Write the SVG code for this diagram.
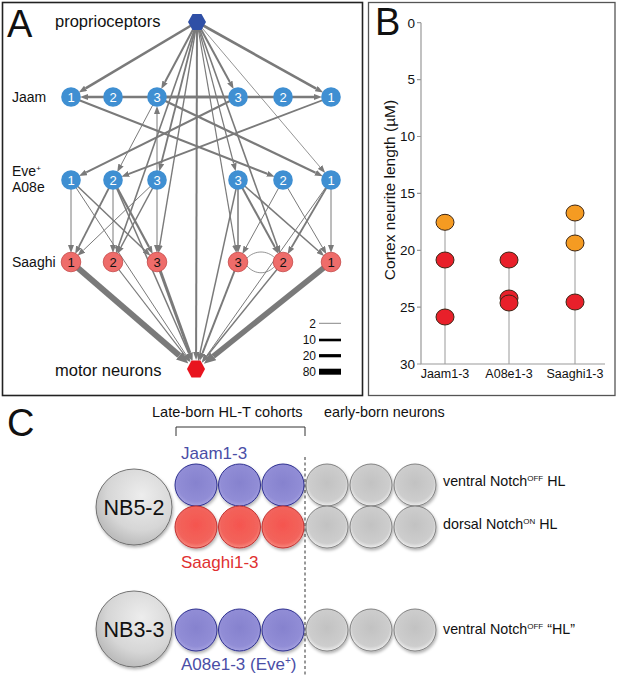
<svg xmlns="http://www.w3.org/2000/svg" width="617" height="676" viewBox="0 0 617 676">
<defs>
<style>
text{font-family:"Liberation Sans",Arial,sans-serif;fill:#111}
.lbl{font-size:14px}
.big{font-size:38px}
.e{stroke:#7a7a7a;fill:none;marker-end:url(#ah)}
.eb{stroke:#7a7a7a;fill:none;marker-end:url(#ahb)}
.bn{fill:#3f8fd2}
.rn{fill:#ee6c6a;stroke:#c54848;stroke-width:0.8}
.nw{font-size:13px;fill:#fff;text-anchor:middle}
.nk{font-size:13px;fill:#111;text-anchor:middle}
.ax{stroke:#999;stroke-width:1.2;fill:none}
.tk{font-size:13.5px;text-anchor:end}
.xl{font-size:12.5px;text-anchor:middle}
.dot{stroke:#3b2616;stroke-width:1}
.cb{fill:url(#gb);stroke:#2d2f8f;stroke-width:1;filter:url(#sh)}
.cr{fill:url(#gr);stroke:#c03030;stroke-width:1;filter:url(#sh)}
.cg{fill:url(#gg);stroke:#777;stroke-width:0.9;filter:url(#sh)}
.cn{fill:url(#gn);stroke:#666;stroke-width:0.9;filter:url(#sh)}
.rt{font-size:14.3px}
</style>
<marker id="ah" viewBox="0 0 8 6" refX="0" refY="3" markerWidth="8" markerHeight="6" markerUnits="userSpaceOnUse" orient="auto"><path d="M0,0 L8,3 L0,6 z" fill="#7a7a7a"/></marker>
<marker id="ahb" viewBox="0 0 12 10" refX="0" refY="5" markerWidth="12" markerHeight="10" markerUnits="userSpaceOnUse" orient="auto"><path d="M0,0 L12,5 L0,10 z" fill="#7a7a7a"/></marker>
<radialGradient id="gb" cx="50%" cy="45%" r="55%"><stop offset="0" stop-color="#8682ce"/><stop offset="0.8" stop-color="#918dd6"/><stop offset="1" stop-color="#a6a2e0"/></radialGradient>
<radialGradient id="gr" cx="50%" cy="45%" r="55%"><stop offset="0" stop-color="#f5554f"/><stop offset="0.8" stop-color="#f2645c"/><stop offset="1" stop-color="#f78a80"/></radialGradient>
<radialGradient id="gg" cx="50%" cy="45%" r="55%"><stop offset="0" stop-color="#c2c2c2"/><stop offset="0.8" stop-color="#cdcdcd"/><stop offset="1" stop-color="#efefef"/></radialGradient>
<radialGradient id="gn" cx="60%" cy="35%" r="65%"><stop offset="0" stop-color="#ededed"/><stop offset="0.7" stop-color="#d6d6d6"/><stop offset="1" stop-color="#bdbdbd"/></radialGradient>
<filter id="sh" x="-20%" y="-20%" width="150%" height="150%"><feDropShadow dx="1" dy="2" stdDeviation="1.5" flood-color="#000" flood-opacity="0.3"/></filter>
</defs>
<rect width="617" height="676" fill="#fff"/>

<!-- Panel A -->
<rect x="2.5" y="2.5" width="360" height="393" fill="none" stroke="#222" stroke-width="1.6"/>
<text class="big" x="7" y="37">A</text>
<text x="55" y="27" font-size="16.5">proprioceptors</text>
<text class="lbl" x="12" y="102">Jaam</text>
<text class="lbl" x="12" y="176">Eve<tspan font-size="8" dy="-5">+</tspan></text>
<text class="lbl" x="12" y="192">A08e</text>
<text class="lbl" x="12" y="267">Saaghi</text>
<text x="55" y="376" font-size="16.5">motor neurons</text>

<g id="connectors">
<path class="e" stroke-width="2.6" d="M197,22 L85.6,88.3"/>
<path class="e" stroke-width="2" d="M197,22 L165,82"/>
<path class="e" stroke-width="2" d="M197,22 L229.8,82.1"/>
<path class="e" stroke-width="2.6" d="M197,22 L316.2,88.7"/>
<path class="e" stroke-width="1.8" d="M197,22 L161.2,163.5"/>
<path class="e" stroke-width="1.2" d="M197,22 L233.7,163.5"/>
<path class="e" stroke-width="0.8" d="M197,22 L320,167"/>
<path class="e" stroke-width="2" d="M197,22 L196.1,352"/>
<path class="e" stroke-width="1.6" d="M197,22 L118.6,246"/>
<path class="e" stroke-width="1.4" d="M197,22 L159.8,245.2"/>
<path class="e" stroke-width="1.6" d="M197,22 L277.3,246"/>
<path class="e" stroke-width="1.2" d="M197,22 L235.1,245.2"/>
<path class="e" stroke-width="2.6" d="M238,97 L88,97"/>
<path class="e" stroke-width="2.6" d="M157,97 L314,97"/>
<path class="e" stroke-width="2" d="M71,97 L267.2,173.8"/>
<path class="e" stroke-width="2.2" d="M157,97 L315.6,172.7"/>
<path class="e" stroke-width="2" d="M238,97 L86.2,172.4"/>
<path class="e" stroke-width="1.8" d="M331,97 L128.9,173.9"/>
<path class="e" stroke-width="1" d="M157,97 L121,165"/>
<path class="e" stroke-width="1" d="M157,180 L157,114"/>
<path class="e" stroke-width="1" d="M71,180 L71,245"/>
<path class="e" stroke-width="1.5" d="M71,180 L144.7,250.3"/>
<path class="e" stroke-width="1.8" d="M113,180 L78.8,246.9"/>
<path class="e" stroke-width="1" d="M113,180 L113,245"/>
<path class="e" stroke-width="2.2" d="M113,180 L149,247"/>
<path class="e" stroke-width="1" d="M157,180 L83.3,250.3"/>
<path class="e" stroke-width="1.5" d="M157,180 L121,247"/>
<path class="e" stroke-width="1" d="M157,180 L157,245"/>
<path class="e" stroke-width="1.5" d="M238,180 L238,245"/>
<path class="e" stroke-width="2" d="M238,180 L274.8,247.1"/>
<path class="e" stroke-width="1.5" d="M238,180 L318.2,250.8"/>
<path class="e" stroke-width="1" d="M283,180 L246.2,247.1"/>
<path class="e" stroke-width="1" d="M283,180 L322.4,247.3"/>
<path class="e" stroke-width="1" d="M331,180 L331,245"/>
<path class="e" stroke-width="1.8" d="M331,180 L291.6,247.3"/>
<path stroke="#7a7a7a" stroke-width="0.8" fill="none" d="M247,258 C255,250 267,250 275,258"/>
<path stroke="#7a7a7a" stroke-width="0.8" fill="none" d="M247,266 C255,275 267,275 275,266"/>
<path class="eb" stroke-width="6" d="M71,262 L179.3,355.6"/>
<path class="e" stroke-width="1.2" d="M113,262 L185,355.7"/>
<path class="e" stroke-width="1" d="M71,180 L186.1,355"/>
<path class="e" stroke-width="3" d="M157,262 L189.9,353.1"/>
<path class="e" stroke-width="1.5" d="M113,180 L188.8,353.5"/>
<path class="e" stroke-width="2" d="M238,262 L202.5,353.2"/>
<path class="e" stroke-width="1.5" d="M238,180 L199.9,353.4"/>
<path class="e" stroke-width="1.5" d="M283,262 L207,356"/>
<path class="e" stroke-width="1" d="M331,180 L206.4,356.1"/>
<path class="eb" stroke-width="5.5" d="M331,262 L213.2,356.3"/>
</g>

<g id="proprioceptors"><polygon points="188,22 192.5,14 201.5,14 206,22 201.5,30 192.5,30" fill="#2f4fa6"/></g>
<g id="motorneurons"><polygon points="187,369 191.5,360.5 200.5,360.5 205,369 200.5,377.5 191.5,377.5" fill="#e8141e"/></g>

<g id="jaam1L"><circle class="bn" cx="71" cy="97" r="9.8"/><text class="nw" x="71" y="101.6">1</text></g>
<g id="jaam2L"><circle class="bn" cx="113" cy="97" r="9.8"/><text class="nw" x="113" y="101.6">2</text></g>
<g id="jaam3L"><circle class="bn" cx="157" cy="97" r="9.8"/><text class="nw" x="157" y="101.6">3</text></g>
<g id="jaam3R"><circle class="bn" cx="238" cy="97" r="9.8"/><text class="nw" x="238" y="101.6">3</text></g>
<g id="jaam2R"><circle class="bn" cx="283" cy="97" r="9.8"/><text class="nw" x="283" y="101.6">2</text></g>
<g id="jaam1R"><circle class="bn" cx="331" cy="97" r="9.8"/><text class="nw" x="331" y="101.6">1</text></g>

<g id="eve1L"><circle class="bn" cx="71" cy="180" r="9.8"/><text class="nw" x="71" y="184.6">1</text></g>
<g id="eve2L"><circle class="bn" cx="113" cy="180" r="9.8"/><text class="nw" x="113" y="184.6">2</text></g>
<g id="eve3L"><circle class="bn" cx="157" cy="180" r="9.8"/><text class="nw" x="157" y="184.6">3</text></g>
<g id="eve3R"><circle class="bn" cx="238" cy="180" r="9.8"/><text class="nw" x="238" y="184.6">3</text></g>
<g id="eve2R"><circle class="bn" cx="283" cy="180" r="9.8"/><text class="nw" x="283" y="184.6">2</text></g>
<g id="eve1R"><circle class="bn" cx="331" cy="180" r="9.8"/><text class="nw" x="331" y="184.6">1</text></g>

<g id="saaghi1L"><circle class="rn" cx="71" cy="262" r="9.8"/><text class="nk" x="71" y="266.6">1</text></g>
<g id="saaghi2L"><circle class="rn" cx="113" cy="262" r="9.8"/><text class="nk" x="113" y="266.6">2</text></g>
<g id="saaghi3L"><circle class="rn" cx="157" cy="262" r="9.8"/><text class="nk" x="157" y="266.6">3</text></g>
<g id="saaghi3R"><circle class="rn" cx="238" cy="262" r="9.8"/><text class="nk" x="238" y="266.6">3</text></g>
<g id="saaghi2R"><circle class="rn" cx="283" cy="262" r="9.8"/><text class="nk" x="283" y="266.6">2</text></g>
<g id="saaghi1R"><circle class="rn" cx="331" cy="262" r="9.8"/><text class="nk" x="331" y="266.6">1</text></g>

<g id="legend">
<text font-size="12" text-anchor="end" x="316" y="327.5">2</text>
<line x1="319" y1="323.3" x2="341" y2="323.3" stroke="#888" stroke-width="1"/>
<text font-size="12" text-anchor="end" x="316" y="344.2">10</text>
<line x1="319" y1="340" x2="341" y2="340" stroke="#000" stroke-width="2.6"/>
<text font-size="12" text-anchor="end" x="316" y="360">20</text>
<line x1="319" y1="355.7" x2="341" y2="355.7" stroke="#000" stroke-width="3.2"/>
<text font-size="12" text-anchor="end" x="316" y="376">80</text>
<line x1="319" y1="371.7" x2="341" y2="371.7" stroke="#000" stroke-width="6"/>
</g>

<!-- Panel B -->
<rect x="368.5" y="2.5" width="246.5" height="393" fill="none" stroke="#555" stroke-width="1.3"/>
<text class="big" x="375" y="35">B</text>
<g id="chart">
<path class="ax" d="M421,22.7 L421,364 L605,364"/>
<path class="ax" d="M417,22.7 H421 M417,79.6 H421 M417,136.5 H421 M417,193.4 H421 M417,250.3 H421 M417,307.2 H421 M417,364 H421"/>
<text class="tk" x="415" y="27.5">0</text>
<text class="tk" x="415" y="84.4">5</text>
<text class="tk" x="415" y="141.3">10</text>
<text class="tk" x="415" y="198.2">15</text>
<text class="tk" x="415" y="255.1">20</text>
<text class="tk" x="415" y="312">25</text>
<text class="tk" x="415" y="368.8">30</text>
<text font-size="15.5" text-anchor="middle" transform="translate(395,190) rotate(-90)">Cortex neurite length (µM)</text>
<line x1="445" y1="222" x2="445" y2="364" stroke="#999" stroke-width="1"/>
<line x1="509" y1="260" x2="509" y2="364" stroke="#999" stroke-width="1"/>
<line x1="575" y1="213" x2="575" y2="364" stroke="#999" stroke-width="1"/>
<ellipse class="dot" cx="445" cy="222.3" rx="9" ry="8" fill="#f59b22"/>
<ellipse class="dot" cx="445" cy="260" rx="9" ry="8" fill="#e8202a"/>
<ellipse class="dot" cx="445" cy="317" rx="9" ry="8" fill="#e8202a"/>
<ellipse class="dot" cx="509" cy="260" rx="9" ry="8" fill="#e8202a"/>
<ellipse class="dot" cx="509" cy="298" rx="9" ry="8" fill="#e8202a"/>
<ellipse class="dot" cx="509" cy="303" rx="9" ry="8" fill="#e8202a"/>
<ellipse class="dot" cx="575" cy="213" rx="9" ry="8" fill="#f59b22"/>
<ellipse class="dot" cx="575" cy="243" rx="9" ry="8" fill="#f59b22"/>
<ellipse class="dot" cx="575" cy="302" rx="9" ry="8" fill="#e8202a"/>
<text class="xl" x="445" y="378">Jaam1-3</text>
<text class="xl" x="509" y="378">A08e1-3</text>
<text class="xl" x="575" y="378">Saaghi1-3</text>
</g>

<!-- Panel C -->
<text class="big" x="7" y="436">C</text>
<text font-size="14.6" x="152" y="417">Late-born HL-T cohorts</text>
<text font-size="14.4" x="324" y="417">early-born neurons</text>
<path d="M176,436 V427 H305 V436" fill="none" stroke="#333" stroke-width="1"/>
<line x1="305" y1="457" x2="305" y2="676" stroke="#333" stroke-width="1" stroke-dasharray="3,2.5"/>

<g id="NB5-2"><circle class="cn" cx="134" cy="507" r="38"/><text font-size="21.5" text-anchor="middle" x="134" y="515">NB5-2</text></g>
<g id="NB3-3"><circle class="cn" cx="134" cy="629" r="38"/><text font-size="21.5" text-anchor="middle" x="134" y="637">NB3-3</text></g>

<g id="jaam-cohort">
<circle class="cb" cx="196" cy="485" r="21"/>
<circle class="cb" cx="239.5" cy="485" r="21"/>
<circle class="cb" cx="283" cy="485" r="21"/>
<text font-size="17" x="181" y="459" style="fill:#4a4ea6">Jaam1-3</text>
</g>
<g id="saaghi-cohort">
<circle class="cr" cx="196" cy="527" r="21"/>
<circle class="cr" cx="239.5" cy="527" r="21"/>
<circle class="cr" cx="283" cy="527" r="21"/>
<text font-size="17" x="181" y="568" style="fill:#e03030">Saaghi1-3</text>
</g>
<g id="a08e-cohort">
<circle class="cb" cx="196" cy="630" r="21"/>
<circle class="cb" cx="239.5" cy="630" r="21"/>
<circle class="cb" cx="283" cy="630" r="21"/>
<text font-size="17" x="181" y="670" style="fill:#4a4ea6">A08e1-3 (Eve<tspan font-size="10" dy="-6">+</tspan><tspan dy="6">)</tspan></text>
</g>
<g id="early-ventral">
<circle class="cg" cx="327" cy="485" r="21"/>
<circle class="cg" cx="371" cy="485" r="21"/>
<circle class="cg" cx="415" cy="485" r="21"/>
<text class="rt" x="443" y="486">ventral Notch<tspan font-size="8" dy="-5">OFF</tspan><tspan dy="5"> HL</tspan></text>
</g>
<g id="early-dorsal">
<circle class="cg" cx="327" cy="527" r="21"/>
<circle class="cg" cx="371" cy="527" r="21"/>
<circle class="cg" cx="415" cy="527" r="21"/>
<text class="rt" x="443" y="529">dorsal Notch<tspan font-size="8" dy="-5">ON</tspan><tspan dy="5"> HL</tspan></text>
</g>
<g id="early-nb33">
<circle class="cg" cx="327" cy="630" r="21"/>
<circle class="cg" cx="371" cy="630" r="21"/>
<circle class="cg" cx="415" cy="630" r="21"/>
<text class="rt" x="443" y="634">ventral Notch<tspan font-size="8" dy="-5">OFF</tspan><tspan dy="5"> “HL”</tspan></text>
</g>
</svg>
